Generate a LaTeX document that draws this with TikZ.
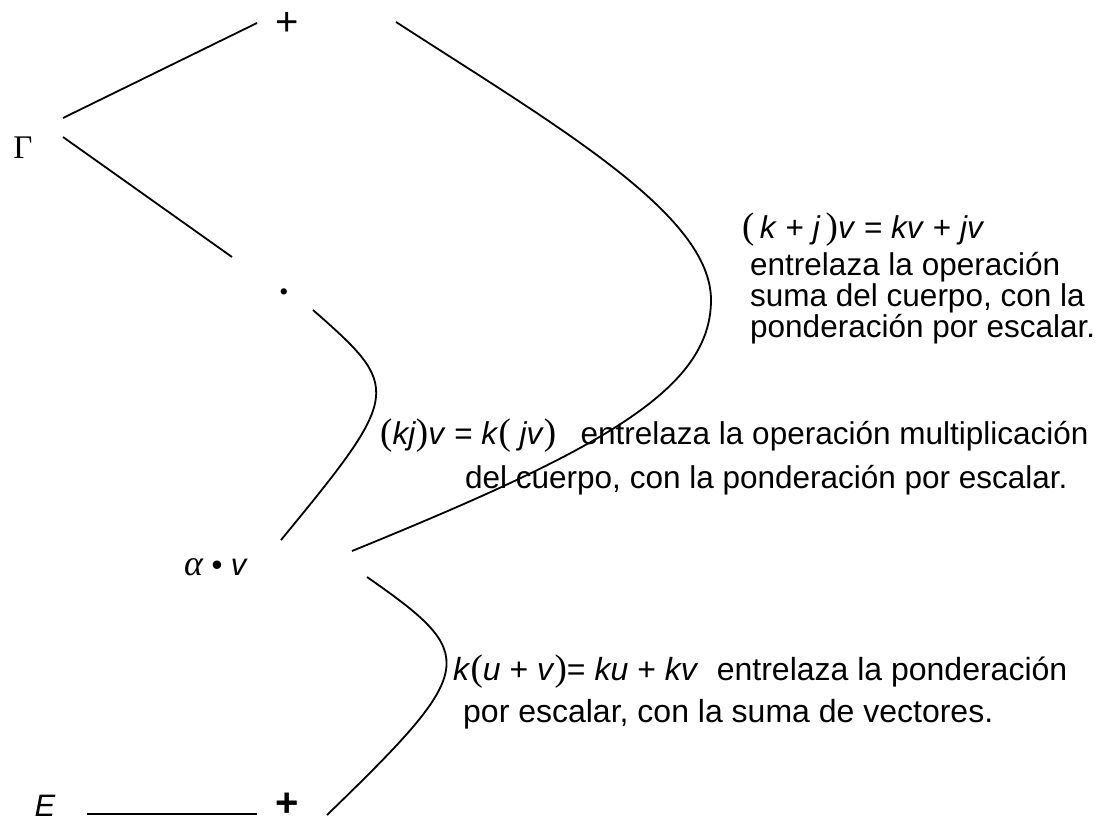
\documentclass[tikz,border=0pt]{standalone}
\usepackage{fontspec}
\setmainfont{Liberation Sans}
\newfontfamily\serifgr{Liberation Serif}
\newcommand{\iv}[1]{\textit{#1}}
\newcommand{\lp}{{\serifgr\fontsize{37}{37}\selectfont(}}
\newcommand{\rp}{{\serifgr\fontsize{37}{37}\selectfont)}}
\begin{document}
\begin{tikzpicture}[x=1pt,y=-1pt,
  lbl/.style={inner sep=0pt},
  txt/.style={inner sep=0pt, anchor=base west, font=\fontsize{31.5}{36}\selectfont},
  txtb/.style={txt, font=\fontsize{32}{36}\selectfont},
  link/.style={line width=1.8pt}]
\useasboundingbox (0,0) rectangle (1101,823);
% symbol nodes
\node[lbl, font=\fontsize{40}{40}\selectfont] (plusT) at (287,24) {+};
\node[lbl, font=\serifgr\fontsize{33}{33}\selectfont] (gam) at (23,148) {Γ};
\node[lbl, font=\fontsize{23}{23}\selectfont] (dotn) at (284,294) {•};
\node[lbl, font=\fontsize{31}{31}\selectfont] (av) at (216,567) {{\serifgr\itshape\fontsize{36}{36}\selectfont α} • \iv{v}};
\node[lbl, font=\fontsize{31}{31}\selectfont\itshape] (E) at (45,806) {E};
\node[lbl, font=\fontsize{40}{40}\selectfont\bfseries] (plusB) at (287,805) {+};
\coordinate (turnA) at (711,300);
% straight connectors
\draw[link] ([shift={(40,-30)}]gam.center) -- ([shift={(-30,-1)}]plusT.center);
\draw[link] ([shift={(40,-11)}]gam.center) -- ([shift={(-52,-37)}]dotn.center);
\draw[link] ([shift={(42,8)}]E.center) -- ([shift={(-30,9)}]plusB.center);
% curved connectors
\draw[link] ([shift={(109,-2)}]plusT.center) .. controls (560,128) and (711,215) .. (turnA)
   .. controls (711,390) and (600,450) .. ([shift={(136,-16)}]av.center);
\draw[link] ([shift={(29,16)}]dotn.center) .. controls (402,388) and (402,393) .. ([shift={(65,-27)}]av.center);
\draw[link] ([shift={(151,10)}]av.center) .. controls (479,655) and (479,668) .. ([shift={(40,10)}]plusB.center);
% texts
\node[txt] (f1) at (742,238) {\lp\,\iv{k}~+~\iv{j}\,\rp\iv{v} = \iv{kv} + \iv{jv}};
\node[txt] (t1a) at (750,275) {entrelaza la operación};
\node[txt] (t1b) at (750,306) {suma del cuerpo, con la};
\node[txt] (t1c) at (750,337) {ponderación por escalar.};
\node[txt] (f2) at (380,444) {\lp\iv{kj}\rp\iv{v} = \iv{k}\lp~\iv{jv}\rp\hspace{0.5em} entrelaza la operación multiplicación};
\node[txt] (t2b) at (465,488) {del cuerpo, con la ponderación por escalar.};
\node[txtb] (f3) at (453,680) {\iv{k}\lp\iv{u} + \iv{v}\rp = \iv{ku} + \iv{kv}\hspace{0.3em} entrelaza la ponderación};
\node[txtb] (t3b) at (463,722) {por escalar, con la suma de vectores.};
\end{tikzpicture}
\end{document}
